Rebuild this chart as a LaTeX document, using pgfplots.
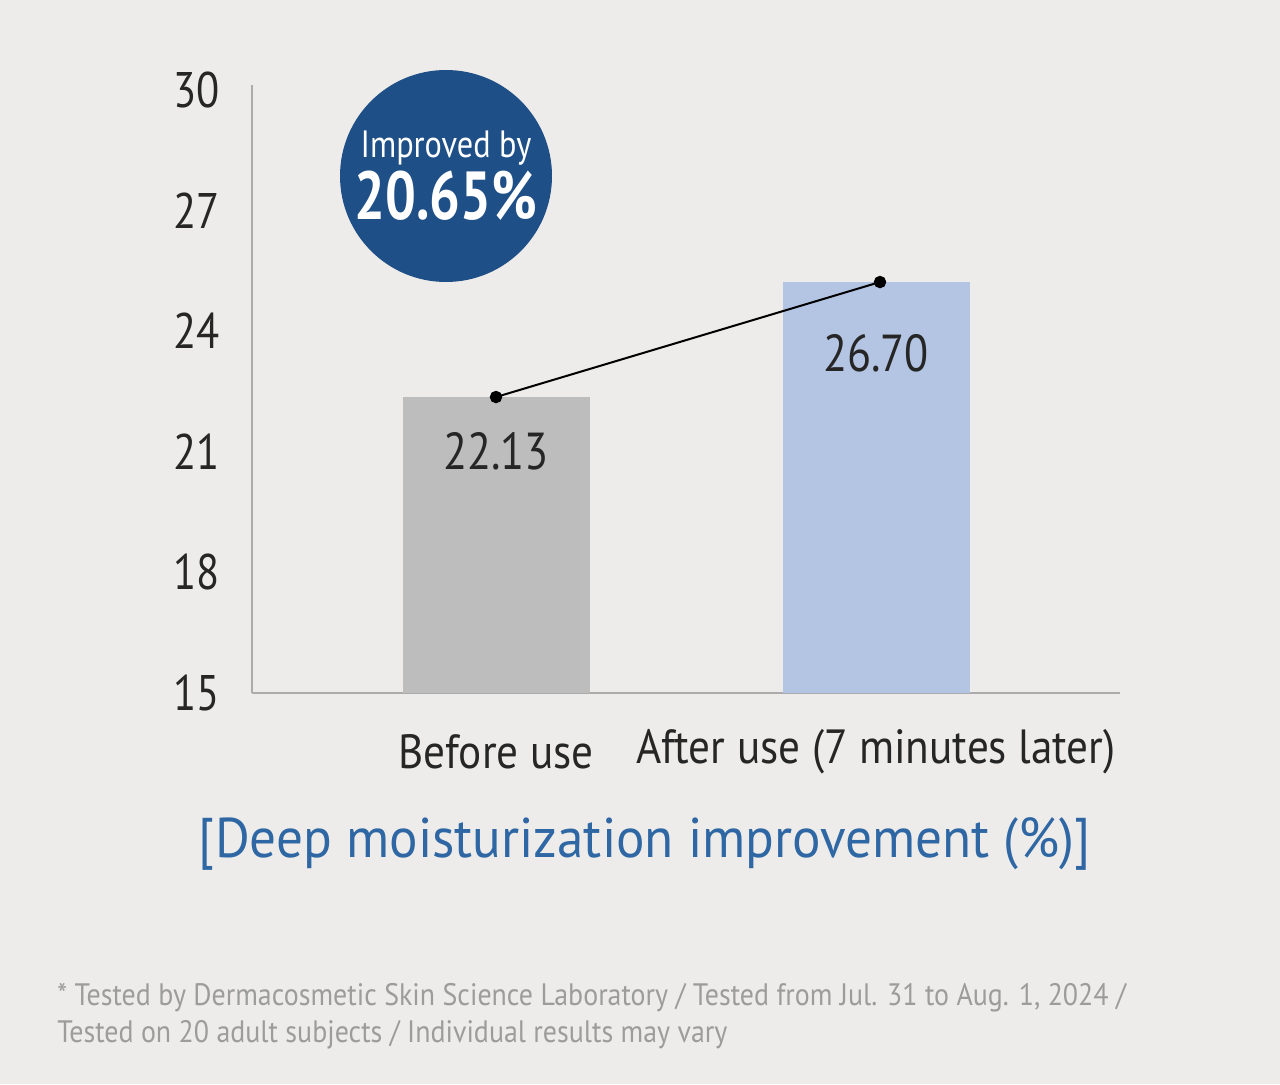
\documentclass[border=0pt]{standalone}
\usepackage{pgfplots}
\pgfplotsset{compat=1.18}
\usepackage{fontspec}
\setmainfont{PT Sans}[FakeStretch=0.85]
\newfontfamily\widefont{PT Sans}[FakeStretch=0.9]
\newfontfamily\titlefont{PT Sans}[FakeStretch=0.95]
\newfontfamily\badgefont{PT Sans}[FakeStretch=0.8]

\definecolor{bgc}{HTML}{EDECEA}
\definecolor{barbefore}{HTML}{BDBDBD}
\definecolor{barafter}{HTML}{B4C5E4}
\definecolor{badge}{HTML}{1F4F87}
\definecolor{titleblue}{HTML}{2E67A3}
\definecolor{axisgray}{HTML}{ABABAB}
\definecolor{notegray}{HTML}{9C9C9C}

\begin{document}
\begin{tikzpicture}
% page: 1280 x 1084 px at 0.5pt per px
\fill[bgc] (0,0) rectangle (640pt,542pt);
\useasboundingbox (0,0) rectangle (640pt,542pt);

\begin{axis}[
    at={(126pt,195.5pt)}, anchor=south west,
    scale only axis,
    width=434pt, height=304pt,
    xmin=0, xmax=868,
    ymin=15, ymax=30.12,
    axis x line=bottom, axis y line=left,
    axis line style={axisgray, line width=0.8pt, -},
    major tick length=0pt,
    ytick={15,18,21,24,27,30},
    xtick={244,624},
    xticklabels={Before use, After use (7 minutes later)},
    /pgf/number format/assume math mode=true,
    yticklabel style={anchor=center, inner sep=0pt, xshift=-27.5pt,
        font=\fontsize{25}{30}\selectfont, text=black!85},
    xticklabel style={anchor=center, inner sep=0pt, yshift=-29.5pt,
        font=\widefont\fontsize{24}{28}\selectfont, text=black!85},
    clip=false,
]
\addplot[ybar, bar shift=0pt, bar width=93.5pt, fill=barbefore, draw=none]
    coordinates {(244,22.36)};
\addplot[ybar, bar shift=0pt, bar width=93.5pt, fill=barafter, draw=none]
    coordinates {(624,25.22)};
\addplot[black, line width=1pt, mark=*, mark size=2.6pt, mark options={fill=black}]
    coordinates {(244,22.36) (628,25.22)};

\node[font=\fontsize{26}{30}\selectfont, text=black!85] at (axis cs:244,21.02) {22.13};
\node[font=\fontsize{26}{30}\selectfont, text=black!85] at (axis cs:624,23.46) {26.70};
\end{axis}

% badge
\fill[badge] (223pt,454pt) circle (53pt);
\node[text=white, font=\fontsize{19}{22}\selectfont] at (223pt,468pt) {Improved by};
\node[text=white, font=\badgefont\fontsize{34}{40}\selectfont\bfseries] at (223pt,444pt) {20.65\%};

% caption
\node[text=titleblue, font=\titlefont\fontsize{28}{32}\selectfont] at (322.5pt,120pt)
    {[Deep moisturization improvement (\%)]};

% footnote
\node[anchor=west, inner sep=0pt, text=notegray, font=\widefont\fontsize{15.5}{18}\selectfont] at (28.5pt,43pt)
    {* Tested by Dermacosmetic Skin Science Laboratory / Tested from Jul. 31 to Aug. 1, 2024 /};
\node[anchor=west, inner sep=0pt, text=notegray, font=\widefont\fontsize{15.5}{18}\selectfont] at (28.5pt,24.5pt)
    {Tested on 20 adult subjects / Individual results may vary};
\end{tikzpicture}
\end{document}
